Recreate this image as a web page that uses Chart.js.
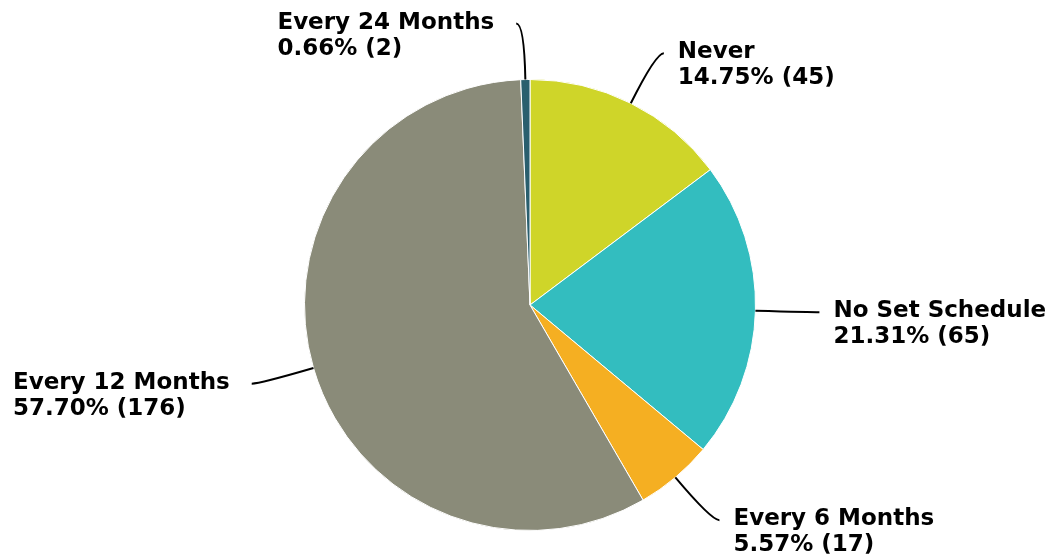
<!DOCTYPE html>
<html>
<head>
<meta charset="utf-8">
<script src="https://cdn.jsdelivr.net/npm/chart.js@4/dist/chart.umd.min.js"></script>
<style>
  html, body { margin: 0; padding: 0; background: #fff; font-family: "DejaVu Sans"; }
  #wrap { width: 1054px; height: 559px; }
</style>
</head>
<body>
<div id="wrap"><canvas id="pie" width="1054" height="559"></canvas></div>
<script>
const categories = ['Never', 'No Set Schedule', 'Every 6 Months', 'Every 12 Months', 'Every 24 Months'];
const counts = [45, 65, 17, 176, 2];
const sliceColors = ['#CFD529', '#33BDBF', '#F5AF22', '#8A8B79', '#2A5F6E'];

const total = counts.reduce((a, b) => a + b, 0);
const labelFont = 'bold 23px "DejaVu Sans"';

// leader lines + two-line labels beside the pie
const outsideLabels = {
  id: 'outsideLabels',
  afterDatasetsDraw(chart) {
    const ctx = chart.ctx;
    const meta = chart.getDatasetMeta(0);
    ctx.save();
    meta.data.forEach((arc, i) => {
      const mid = (arc.startAngle + arc.endAngle) / 2;
      const r = arc.outerRadius;
      const cx = arc.x, cy = arc.y;
      const dx = Math.cos(mid), dy = Math.sin(mid);
      const right = dx >= 0;
      const p0 = { x: cx + dx * r, y: cy + dy * r };
      const pc = { x: cx + dx * (r + 56), y: cy + dy * (r + 56) };
      const p2 = { x: pc.x + (right ? 8 : -8), y: pc.y };

      ctx.strokeStyle = '#000';
      ctx.lineWidth = 2;
      ctx.beginPath();
      ctx.moveTo(p0.x, p0.y);
      ctx.quadraticCurveTo(pc.x, pc.y, p2.x, p2.y);
      ctx.stroke();

      const pct = (counts[i] / total * 100).toFixed(2) + '% (' + counts[i] + ')';
      ctx.fillStyle = '#000';
      ctx.font = labelFont;
      ctx.textBaseline = 'middle';
      const w = Math.max(ctx.measureText(categories[i]).width, ctx.measureText(pct).width);
      const tx = right ? p2.x + 14 : p2.x - 22 - w;
      ctx.textAlign = 'left';
      ctx.fillText(categories[i], tx, p2.y - 1);
      ctx.fillText(pct, tx, p2.y + 25);
    });
    ctx.restore();
  }
};

document.fonts.load(labelFont).then(() => {
  new Chart(document.getElementById('pie'), {
    type: 'pie',
    data: {
      labels: categories,
      datasets: [{
        data: counts,
        backgroundColor: sliceColors,
        borderColor: '#ffffff',
        borderWidth: 1
      }]
    },
    options: {
      responsive: false,
      animation: false,
      layout: { padding: { top: 79, bottom: 28, left: 304, right: 298 } },
      plugins: {
        legend: { display: false },
        tooltip: { enabled: false }
      }
    },
    plugins: [outsideLabels]
  });
});
</script>
</body>
</html>
